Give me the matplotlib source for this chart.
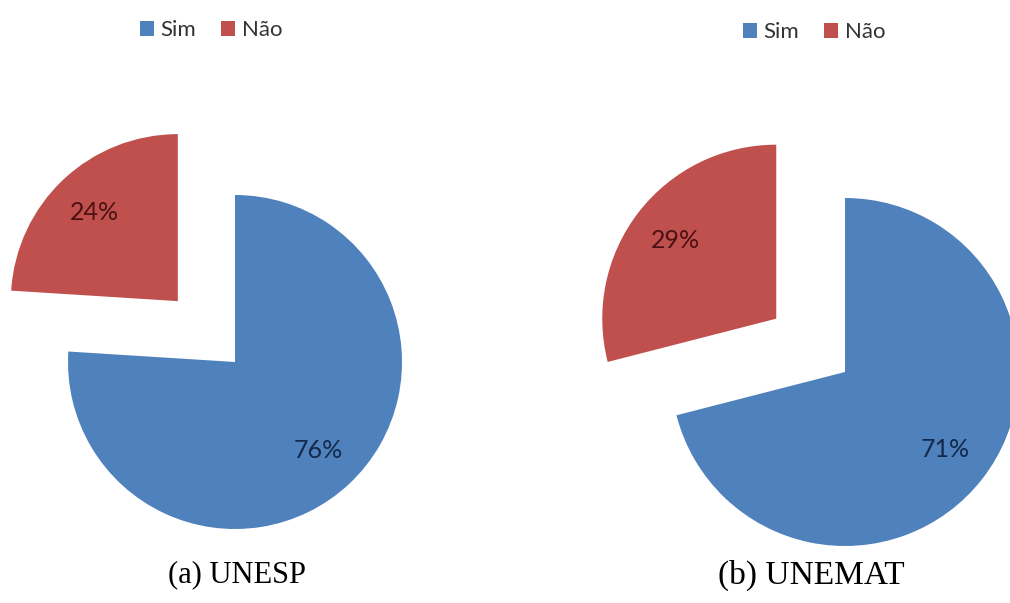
import matplotlib
matplotlib.use("Agg")
import matplotlib.pyplot as plt

plt.rcParams['font.family'] = ['Lato', 'DejaVu Sans']

# dados das duas instituições
categorias = ["Sim", "Não"]
unesp = [76, 24]
unemat = [71, 29]
titulos = ["(a) UNESP", "(b) UNEMAT"]
cores = ["#4F81BD", "#C0504D"]
cores_rotulo = ["#13294b", "#4a1212"]

W, H = 1010, 603
fig = plt.figure(figsize=(W / 100, H / 100), dpi=100)


def desenha_pizza(valores, cx, cy, r, leg_x, leg_y, titulo, tit_x, tit_size):
    s = 2.0 * r
    ax = fig.add_axes([(cx - s) / W, 1 - (cy + s) / H, 2 * s / W, 2 * s / H])
    ax.patch.set_visible(False)
    wedges, _, pcts = ax.pie(
        valores, colors=cores, startangle=90, counterclock=False,
        explode=[0, 0.5], autopct='%.0f%%', pctdistance=0.73,
        wedgeprops=dict(linewidth=0),
    )
    for t, c in zip(pcts, cores_rotulo):
        t.set_color(c)
        t.set_fontsize(18)
    ax.set_xlim(-s / r, s / r)
    ax.set_ylim(-s / r, s / r)
    ax.set_aspect('equal', adjustable='box')

    fig.legend(wedges, categorias, loc='center',
               bbox_to_anchor=(leg_x / W, 1 - leg_y / H),
               ncol=2, frameon=False, fontsize=16,
               handlelength=0.65, handleheight=0.65,
               handletextpad=0.3, columnspacing=1.1,
               labelcolor='#333333')

    fig.text(tit_x / W, 1 - 575 / H, titulo, family='Liberation Serif',
             fontsize=tit_size, ha='center', va='center')


desenha_pizza(unesp, 235, 362, 167, 211, 30, titulos[0], 237, 22)
desenha_pizza(unemat, 845, 372, 174, 814, 32, titulos[1], 811, 24)

fig.savefig("out.png", dpi=100, facecolor='white')
